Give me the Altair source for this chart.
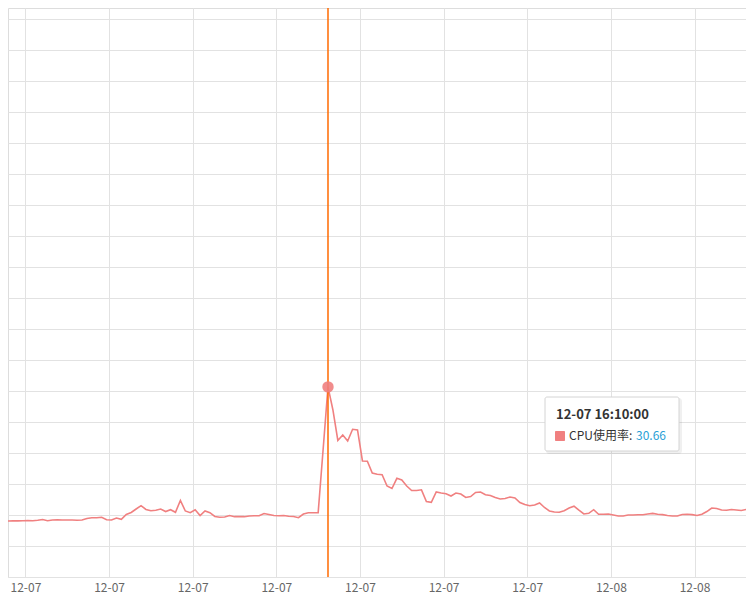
import altair as alt
import pandas as pd

# CPU usage (%) every 10 minutes, starting 2023-12-07 05:00
start_time = "2023-12-07 05:00"
cpu = [
    9.03, 9.03, 9.03, 9.06, 9.06, 9.08, 9.11, 9.08, 9.15, 9.27,
    9.08, 9.19, 9.23, 9.19, 9.19, 9.19, 9.15, 9.19, 9.44, 9.56,
    9.56, 9.63, 9.24, 9.19, 9.52, 9.31, 10.08, 10.40, 10.97, 11.50,
    10.89, 10.69, 10.77, 10.97, 10.56, 10.85, 10.44, 12.34, 10.65, 10.37,
    10.85, 9.92, 10.65, 10.37, 9.76, 9.63, 9.68, 9.92, 9.73, 9.73,
    9.73, 9.84, 9.89, 9.89, 10.24, 10.08, 9.92, 9.89, 9.92, 9.79,
    9.76, 9.56, 10.16, 10.37, 10.37, 10.37, 20.48, 30.66, 26.94, 22.02,
    22.90, 21.94, 23.82, 23.71, 18.71, 18.66, 16.77, 16.56, 16.50, 14.68,
    14.27, 15.92, 15.65, 14.68, 13.95, 13.95, 14.06, 12.18, 12.05, 13.71,
    13.55, 13.44, 13.06, 13.55, 13.39, 12.82, 12.98, 13.63, 13.71, 13.27,
    13.15, 12.82, 12.58, 12.66, 12.90, 12.74, 12.02, 11.69, 11.50, 11.61,
    11.94, 11.21, 10.65, 10.48, 10.45, 10.68, 11.13, 11.42, 10.77, 10.16,
    10.27, 10.85, 10.11, 10.11, 10.16, 10.00, 9.84, 9.84, 10.00, 10.00,
    10.05, 10.05, 10.16, 10.26, 10.13, 10.06, 9.92, 9.84, 9.84, 10.08,
    10.13, 10.06, 9.92, 10.13, 10.56, 11.13, 11.05, 10.81, 10.76, 10.89,
    10.81, 10.73, 10.89, 11.13, 11.37,
]

x_domain = ["2023-12-07 05:19:36", "2023-12-08 06:19:36"]
x_ticks = [
    "2023-12-07 05:55", "2023-12-07 08:45", "2023-12-07 11:35",
    "2023-12-07 14:25", "2023-12-07 17:15", "2023-12-07 20:05",
    "2023-12-07 22:55", "2023-12-08 01:45", "2023-12-08 04:35",
]
y_domain = [0, 91.77]
y_ticks = [0, 5, 10, 15, 20, 25, 30, 35, 40, 45, 50, 55, 60, 65, 70, 75, 80, 85, 90]

highlight_time = "2023-12-07 16:10"
tooltip_title = "12-07 16:10:00"
tooltip_label = "CPU使用率:"
tooltip_value = "30.66"

LINE = "#f08080"
RULE = "#ff6a00"
GRID = "#e2e2e2"
BLUE = "#2a9fd6"
FONT = "Noto Sans CJK SC"


def dt(s):
    t = pd.Timestamp(s)
    return alt.DateTime(year=t.year, month=t.month, date=t.day,
                        hours=t.hour, minutes=t.minute, seconds=t.second)


times = pd.date_range(start_time, periods=len(cpu), freq="10min")
df = pd.DataFrame({"time": times, "cpu": cpu})
hl = df[df["time"] == pd.Timestamp(highlight_time)]
tip = pd.DataFrame({"title": [tooltip_title], "label": [tooltip_label],
                    "value": [tooltip_value]})

x_enc = alt.X(
    "time:T",
    scale=alt.Scale(domain=[dt(s) for s in x_domain]),
    axis=alt.Axis(
        values=[dt(s) for s in x_ticks], tickCount=len(x_ticks) + 2,
        format="%m-%d", title=None,
        grid=True, gridColor=GRID, gridWidth=1,
        ticks=False, tickSize=0, labelPadding=5,
        labelColor="#666666", labelFontSize=12, labelFont=FONT,
        domain=True, domainColor=GRID, domainWidth=1,
    ),
)
y_enc = alt.Y(
    "cpu:Q",
    scale=alt.Scale(domain=y_domain, nice=False, zero=True),
    axis=alt.Axis(values=y_ticks, tickCount=len(y_ticks) + 2, labels=False,
                  ticks=False, domain=False, title=None, grid=True,
                  gridColor=GRID, gridWidth=1),
)

line = alt.Chart(df).mark_line(color=LINE, strokeWidth=1.6, clip=True).encode(
    x=x_enc, y=y_enc
)

rule = alt.Chart(hl).mark_rule(color=RULE, strokeWidth=1.5).encode(
    x=alt.X("time:T")
)

dot = alt.Chart(hl).mark_circle(color=LINE, size=130, opacity=0.9).encode(
    x=alt.X("time:T"), y=alt.Y("cpu:Q")
)

shadow = alt.Chart(tip).mark_rect(color="#000000", opacity=0.06, cornerRadius=3).encode(
    x=alt.value(538), x2=alt.value(674), y=alt.value(390), y2=alt.value(446)
)
box = alt.Chart(tip).mark_rect(fill="#ffffff", stroke="#d4d4d4", strokeWidth=1,
                               cornerRadius=2).encode(
    x=alt.value(537), x2=alt.value(671), y=alt.value(389), y2=alt.value(443)
)
swatch = alt.Chart(tip).mark_rect(color=LINE, cornerRadius=1).encode(
    x=alt.value(547), x2=alt.value(557), y=alt.value(423), y2=alt.value(433)
)
title_txt = alt.Chart(tip).mark_text(
    align="left", baseline="alphabetic", font=FONT, fontSize=13,
    fontWeight="bold", color="#333333"
).encode(x=alt.value(548), y=alt.value(411), text="title:N")
label_txt = alt.Chart(tip).mark_text(
    align="left", baseline="alphabetic", font=FONT, fontSize=12, color="#333333"
).encode(x=alt.value(561), y=alt.value(432), text="label:N")
value_txt = alt.Chart(tip).mark_text(
    align="left", baseline="alphabetic", font=FONT, fontSize=12, color=BLUE
).encode(x=alt.value(628), y=alt.value(432), text="value:N")

chart = alt.layer(
    line, rule, dot, shadow, box, swatch, title_txt, label_txt, value_txt
).properties(
    width=738, height=569,
    autosize=alt.AutoSizeParams(type="none"),
    padding={"left": 0, "top": 0, "right": 0, "bottom": 18},
).configure_view(strokeWidth=0).configure(background="#ffffff")

chart.save("out.html", embed_options={"renderer": "svg", "actions": False})
